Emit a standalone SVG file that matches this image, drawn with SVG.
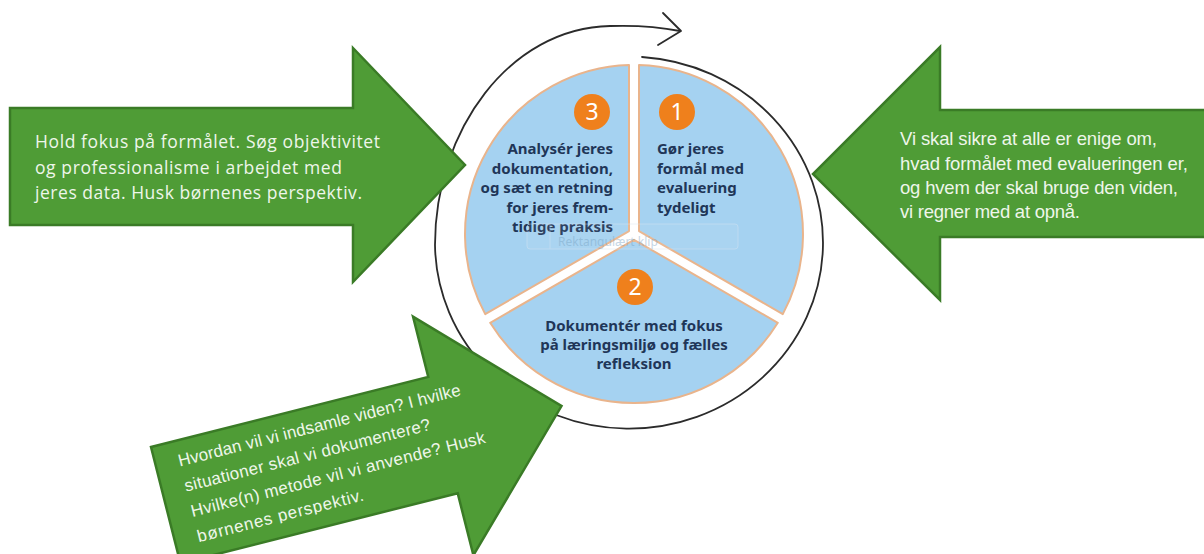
<svg xmlns="http://www.w3.org/2000/svg" width="1204" height="554" viewBox="0 0 1204 554">
<defs>
<style>
.arrow{fill:#4f9c36;stroke:#3a7b26;stroke-width:2.5;stroke-linejoin:miter}
.lt{font-family:"Open Sans","Noto Sans",sans-serif;font-size:17.5px;fill:#eef6ea}
.at{font-family:"Liberation Sans",Arial,sans-serif;font-size:18.5px;fill:#eef6ea}
.bt{font-family:"Liberation Sans",Arial,sans-serif;font-size:17px;fill:#eef6ea}
.sector{fill:#a5d2f1;stroke:#e9b48c;stroke-width:2;stroke-linejoin:round}
.num{fill:#ef801c}
.numt{font-family:"Noto Sans",sans-serif;font-size:23px;fill:#ffffff;text-anchor:middle}
.st{font-family:"Noto Sans",sans-serif;font-weight:bold;font-size:15px;fill:#1f3658}
.cyc{fill:none;stroke:#2b2b2b;stroke-width:1.8;stroke-linecap:round;stroke-linejoin:round}
</style>
<clipPath id="bclip"><rect x="0" y="-70" width="420" height="176"/></clipPath>
</defs>
<rect width="1204" height="554" fill="#ffffff"/>

<g id="connectors">
<path class="cyc" d="M 642,57 A 194 186 0 1 1 435,245 C 435,130 510,28 610,26 C 640,25 665,28 680,31"/>
<path class="cyc" d="M 663,13 L 681,31 L 658,45"/>
</g>

<g id="sector-1">
<path class="sector" d="M 639,231.1 L 639,65.1 A 169 169 0 0 1 782.8,314.1 Z"/>
<circle class="num" cx="677" cy="112" r="18"/>
<text class="numt" x="677" y="120">1</text>
<text class="st" x="657" y="154">Gør jeres</text>
<text class="st" x="657" y="173.5">formål med</text>
<text class="st" x="657" y="193">evaluering</text>
<text class="st" x="657" y="212.5">tydeligt</text>
</g>

<g id="sector-2">
<path class="sector" d="M 634,239.8 L 777.8,322.8 A 169 169 0 0 1 490.2,322.8 Z"/>
<circle class="num" cx="635" cy="287" r="18"/>
<text class="numt" x="635" y="295">2</text>
<text class="st" x="634" y="331" text-anchor="middle">Dokumentér med fokus</text>
<text class="st" x="634" y="350" text-anchor="middle">på læringsmiljø og fælles</text>
<text class="st" x="634" y="369" text-anchor="middle">refleksion</text>
</g>

<g id="sector-3">
<path class="sector" d="M 629,231.1 L 485.2,314.1 A 169 169 0 0 1 629,65.1 Z"/>
<circle class="num" cx="592" cy="112" r="18"/>
<text class="numt" x="592" y="120">3</text>
<text class="st" x="613" y="154" text-anchor="end">Analysér jeres</text>
<text class="st" x="613" y="173.5" text-anchor="end">dokumentation,</text>
<text class="st" x="613" y="193" text-anchor="end">og sæt en retning</text>
<text class="st" x="613" y="212.5" text-anchor="end">for jeres frem-</text>
<text class="st" x="613" y="232" text-anchor="end">tidige praksis</text>
</g>

<g id="clip-overlay" opacity="0.45">
<rect x="527" y="224" width="211" height="25" rx="3" fill="#ffffff" fill-opacity="0.15" stroke="#dce7f1" stroke-width="1"/>
<line x1="550" y1="224" x2="550" y2="249" stroke="#dce7f1" stroke-width="1"/>
<text x="558" y="246" font-family="Noto Sans, sans-serif" font-size="12" fill="#7fa6c4">Rektangulært klip</text>
</g>

<g id="arrow-left">
<polygon class="arrow" points="10,108 353,108 353,48 465,165 353,282 353,225 10,225"/>
<text class="lt" x="35" y="148" textLength="345">Hold fokus på formålet. Søg objektivitet</text>
<text class="lt" x="35" y="174" textLength="307">og professionalisme i arbejdet med</text>
<text class="lt" x="35" y="199" textLength="327">jeres data. Husk børnenes perspektiv.</text>
</g>

<g id="arrow-right">
<polygon class="arrow" points="1210,110 940,110 940,47 813,174 940,300 940,237 1210,237"/>
<text class="at" x="900" y="145" textLength="257">Vi skal sikre at alle er enige om,</text>
<text class="at" x="900" y="170" textLength="288">hvad formålet med evalueringen er,</text>
<text class="at" x="900" y="194" textLength="278">og hvem der skal bruge den viden,</text>
<text class="at" x="900" y="218" textLength="180">vi regner med at opnå.</text>
</g>

<g id="arrow-bottom" transform="translate(151,447) rotate(-14.2)">
<polygon class="arrow" points="0,0 286,0 286,-62 408,61 286,184 286,120 0,120"/>
<g clip-path="url(#bclip)">
<text class="bt" x="23" y="26" textLength="291">Hvordan vil vi indsamle viden? I hvilke</text>
<text class="bt" x="23" y="52" textLength="253">situationer skal vi dokumentere?</text>
<text class="bt" x="23" y="78" textLength="303">Hvilke(n) metode vil vi anvende? Husk</text>
<text class="bt" x="23" y="104" textLength="171">børnenes perspektiv.</text>
</g>
</g>
</svg>
